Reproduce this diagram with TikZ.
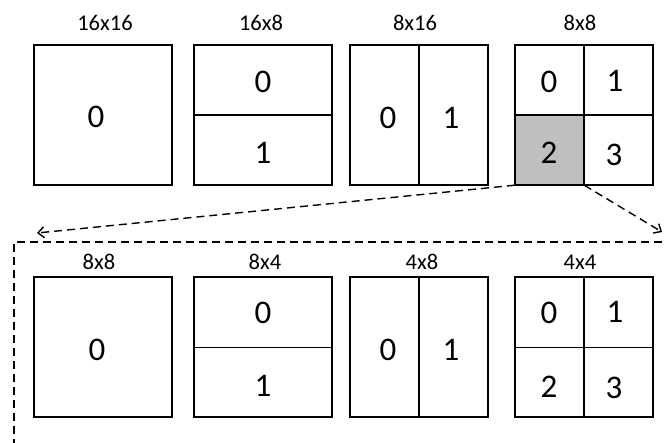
\documentclass[tikz,border=0pt]{standalone}
\usepackage{fontspec}
\setmainfont{Carlito}
\usetikzlibrary{arrows.meta}

\tikzset{
  blk/.style={draw, line width=2pt, minimum width=138pt, minimum height=140pt, inner sep=0pt},
  num/.style={font=\fontsize{33}{33}\selectfont, inner sep=0pt},
  sz/.style={font=\fontsize{22.5}{22.5}\selectfont, inner sep=0pt},
  cut/.style={line width=1.3pt},
  zoomline/.style={line width=1.4pt, dash pattern=on 8pt off 5pt},
}

\begin{document}
\begin{tikzpicture}[x=1pt, y=-1pt]
    \useasboundingbox (0,0) rectangle (664,443);
    \clip (0,0) rectangle (664,443);

    % Selected 8x8 sub-block
    \node[fill=gray!50, minimum width=69pt, minimum height=70pt, inner sep=0pt] (g) at (549.5,150) {};

    % Top row: 16x16 partitions
    \foreach \n/\x in {1/103, 2/263, 3/419, 4/584} {
        \node[blk] (t\n) at (\x,115) {};
    }
    \node[sz] (tl1) at (105,22.5) {16x16};
    \node[sz] (tl2) at (261,22.5) {16x8};
    \node[sz] (tl3) at (415,22.5) {8x16};
    \node[sz] (tl4) at (580,22.5) {8x8};

    \draw[cut] (t2.west) -- (t2.east);
    \draw[cut] (t3.north) -- (t3.south);
    \draw[cut] (t4.west) -- (t4.east);
    \draw[cut] (t4.north) -- (t4.south);

    \node[num] (ta0) at (96,117) {0};
    \node[num] (tb0) at (263,82) {0};
    \node[num] (tb1) at (263,152.5) {1};
    \node[num] (tc0) at (388,118) {0};
    \node[num] (tc1) at (451,118) {1};
    \node[num] (td0) at (549,82) {0};
    \node[num] (td1) at (615,80.5) {1};
    \node[num] (td2) at (549,153) {2};
    \node[num] (td3) at (614,155) {3};

    % Zoom into the 8x8 block
    \coordinate (tipL) at (37,233);
    \coordinate (tipR) at (662,232);
    \draw[zoomline, -{Straight Barb[length=6pt, width=11pt]}] (g.south west) -- (tipL);
    \draw[zoomline, -{Straight Barb[length=6pt, width=11pt]}] (g.south east) -- (tipR);
    \draw[zoomline] (14,460) -- (14,242) -- (680,242);

    % Bottom row: 8x8 partitions
    \foreach \n/\x in {1/103, 2/263, 3/419, 4/584} {
        \node[blk] (b\n) at (\x,347.5) {};
    }
    \node[sz] (bl1) at (99,262) {8x8};
    \node[sz] (bl2) at (265,262) {8x4};
    \node[sz] (bl3) at (422,262) {4x8};
    \node[sz] (bl4) at (580,262) {4x4};

    \draw[cut] (b2.west) -- (b2.east);
    \draw[cut] (b3.north) -- (b3.south);
    \draw[cut] (b4.west) -- (b4.east);
    \draw[cut] (b4.north) -- (b4.south);

    \node[num] (ba0) at (97,350) {0};
    \node[num] (bb0) at (263,313) {0};
    \node[num] (bb1) at (263,386) {1};
    \node[num] (bc0) at (388,350) {0};
    \node[num] (bc1) at (451,350) {1};
    \node[num] (bd0) at (549,313) {0};
    \node[num] (bd1) at (615,312) {1};
    \node[num] (bd2) at (549,387) {2};
    \node[num] (bd3) at (614,388) {3};
\end{tikzpicture}
\end{document}
